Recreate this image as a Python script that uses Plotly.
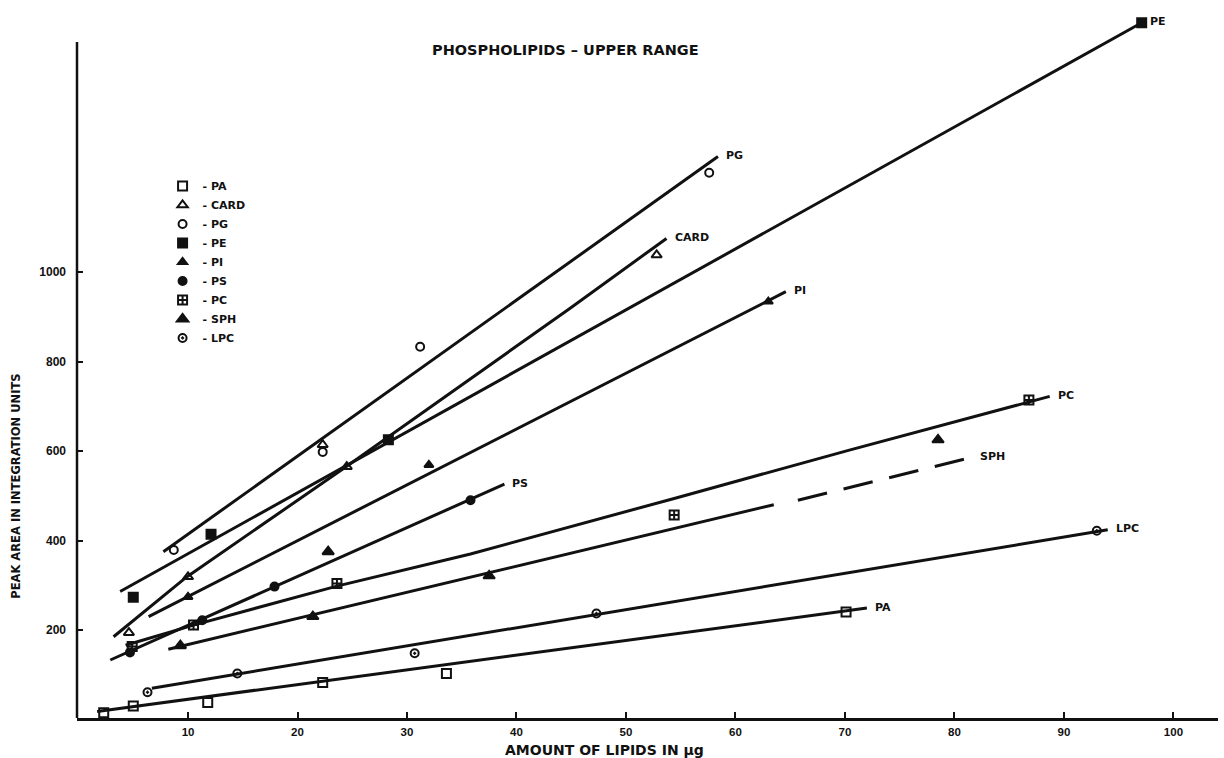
import plotly.graph_objects as go

# ---------------- data ----------------
x_tick_vals = [10, 20, 30, 40, 50, 60, 70, 80, 90, 100]
y_tick_vals = [200, 400, 600, 800, 1000]

series_names = ["PA", "CARD", "PG", "PE", "PI", "PS", "PC", "SPH", "LPC"]

# measured points
PA_x = [2.3, 5.0, 11.8, 22.3, 33.6, 70.1]
PA_y = [15, 30, 38, 83, 103, 240]
CARD_x = [4.6, 10.0, 22.3, 24.5, 52.8]
CARD_y = [194, 319, 614, 565, 1038]
PG_x = [8.7, 22.3, 31.2, 57.6]
PG_y = [379, 598, 833, 1222]
PE_x = [5.0, 12.1, 28.3, 97.1]
PE_y = [273, 414, 625, 1557]
PI_x = [10.0, 32.0, 63.0]
PI_y = [274, 569, 934]
PS_x = [4.7, 11.3, 17.9, 35.8]
PS_y = [150, 222, 297, 490]
PC_x = [4.9, 10.5, 23.6, 54.4, 86.8]
PC_y = [163, 211, 304, 457, 714]
SPH_x = [9.3, 21.4, 22.8, 37.5, 78.5]
SPH_y = [165, 230, 375, 321, 625]
LPC_x = [6.3, 14.5, 30.7, 47.3, 93.0]
LPC_y = [61, 103, 148, 237, 422]

# hand-drawn calibration lines
PA_fit_x = [1.7, 72.0]
PA_fit_y = [18, 249]
CARD_fit_x = [3.2, 9.85, 24.5, 44.9, 53.7]
CARD_fit_y = [185, 318, 566, 919, 1075]
PG_fit_x = [7.75, 58.4]
PG_fit_y = [375, 1258]
PE_fit_x = [3.8, 97.1]
PE_fit_y = [286, 1557]
PI_fit_x = [6.4, 64.6]
PI_fit_y = [230, 956]
PS_fit_x = [2.9, 38.9]
PS_fit_y = [133, 526]
PC_fit_x = [4.3, 10.5, 23.6, 35.8, 54.4, 70.4, 88.7]
PC_fit_y = [166, 211, 298, 370, 494, 602, 722]
SPH_fit_x = [8.2, 63.5]
SPH_fit_y = [157, 480]
SPH_ext_x = [65.7, 81.6]          # dashed extrapolation
SPH_ext_y = [490, 586]
LPC_fit_x = [6.7, 94.0]
LPC_fit_y = [70, 424]

points = {
    "PA": (PA_x, PA_y), "CARD": (CARD_x, CARD_y), "PG": (PG_x, PG_y),
    "PE": (PE_x, PE_y), "PI": (PI_x, PI_y), "PS": (PS_x, PS_y),
    "PC": (PC_x, PC_y), "SPH": (SPH_x, SPH_y), "LPC": (LPC_x, LPC_y),
}
fits = {
    "PA": (PA_fit_x, PA_fit_y), "CARD": (CARD_fit_x, CARD_fit_y),
    "PG": (PG_fit_x, PG_fit_y), "PE": (PE_fit_x, PE_fit_y),
    "PI": (PI_fit_x, PI_fit_y), "PS": (PS_fit_x, PS_fit_y),
    "PC": (PC_fit_x, PC_fit_y), "SPH": (SPH_ext_x, SPH_ext_y),
    "LPC": (LPC_fit_x, LPC_fit_y),
}

# ---------------- styles ----------------
INK = "#111111"
symbols = {
    "PA": ("square-open", 9), "CARD": ("triangle-up-open", 9),
    "PG": ("circle-open", 8), "PE": ("square", 9), "PI": ("triangle-up", 8),
    "PS": ("circle", 8), "PC": ("square-cross-open", 9),
    "SPH": ("triangle-up", 10), "LPC": ("circle-open-dot", 8),
}
LW = 3
bold = "DejaVu Sans"

fig = go.Figure()

# lines first
for name in series_names:
    fx, fy = fits[name]
    if name == "SPH":
        fig.add_trace(go.Scatter(x=SPH_fit_x, y=SPH_fit_y, mode="lines",
                                 line=dict(color=INK, width=LW),
                                 showlegend=False, hoverinfo="skip"))
        fig.add_trace(go.Scatter(x=fx, y=fy, mode="lines",
                                 line=dict(color=INK, width=LW, dash="30px,17px"),
                                 showlegend=False, hoverinfo="skip"))
    else:
        fig.add_trace(go.Scatter(x=fx, y=fy, mode="lines",
                                 line=dict(color=INK, width=LW),
                                 showlegend=False, hoverinfo="skip"))

# then markers (these make the legend)
for name in series_names:
    px_, py_ = points[name]
    sym, sz = symbols[name]
    fig.add_trace(go.Scatter(
        x=px_, y=py_, mode="markers", name="- " + name,
        marker=dict(symbol=sym, size=sz, color=INK,
                    line=dict(color=INK, width=2)),
    ))

# curve end labels, placed at the end of each drawn line
annotations = []
for name in series_names:
    fx, fy = fits[name]
    annotations.append(dict(
        x=fx[-1], y=fy[-1], xref="x", yref="y", text="<b>" + name + "</b>",
        showarrow=False, xanchor="left", yanchor="middle", xshift=6, yshift=1,
        font=dict(family=bold, size=11, color=INK),
    ))

annotations.append(dict(
    x=0.4277, y=0.9435, xref="paper", yref="paper",
    text="<b>PHOSPHOLIPIDS – UPPER RANGE</b>", showarrow=False,
    xanchor="center", yanchor="middle",
    font=dict(family=bold, size=14.5, color=INK),
))
annotations.append(dict(
    x=0.4619, y=-0.0445, xref="paper", yref="paper",
    text="<b>AMOUNT OF LIPIDS IN μg</b>", showarrow=False,
    xanchor="center", yanchor="middle",
    font=dict(family=bold, size=14, color=INK),
))
annotations.append(dict(
    x=-0.0535, y=0.328, xref="paper", yref="paper",
    text="<b>PEAK AREA IN INTEGRATION UNITS</b>", showarrow=False,
    textangle=-90, xanchor="center", yanchor="middle",
    font=dict(family=bold, size=11.5, color=INK),
))

fig.update_layout(
    width=1224, height=758,
    margin=dict(l=77, r=6, t=10, b=40),
    paper_bgcolor="white", plot_bgcolor="white",
    annotations=annotations,
    showlegend=True,
    legend=dict(x=0.075, y=0.772, xanchor="left", yanchor="top",
                bgcolor="rgba(0,0,0,0)", tracegroupgap=0,
                font=dict(family=bold, size=11, color=INK, weight="bold")),
    shapes=[dict(type="line", xref="paper", x0=0, x1=0, yref="y",
                 y0=3.4, y1=1514, line=dict(color=INK, width=2.5))],
)
fig.update_xaxes(
    range=[-0.14, 104.07], showgrid=False, zeroline=False,
    showline=True, linecolor=INK, linewidth=2.5,
    tickmode="array", tickvals=x_tick_vals,
    ticks="inside", ticklen=6, tickwidth=1.5, tickcolor=INK,
    ticklabelstandoff=1,
    tickfont=dict(family="Liberation Sans", size=11.5, color=INK, weight="bold"),
)
fig.update_yaxes(
    range=[3.4, 1585.5], showgrid=False, zeroline=False, showline=False,
    tickmode="array", tickvals=y_tick_vals,
    ticks="inside", ticklen=6, tickwidth=1.5, tickcolor=INK,
    ticklabelstandoff=10,
    tickfont=dict(family="Liberation Sans", size=12, color=INK, weight="bold"),
)

fig.write_html("out.html")
